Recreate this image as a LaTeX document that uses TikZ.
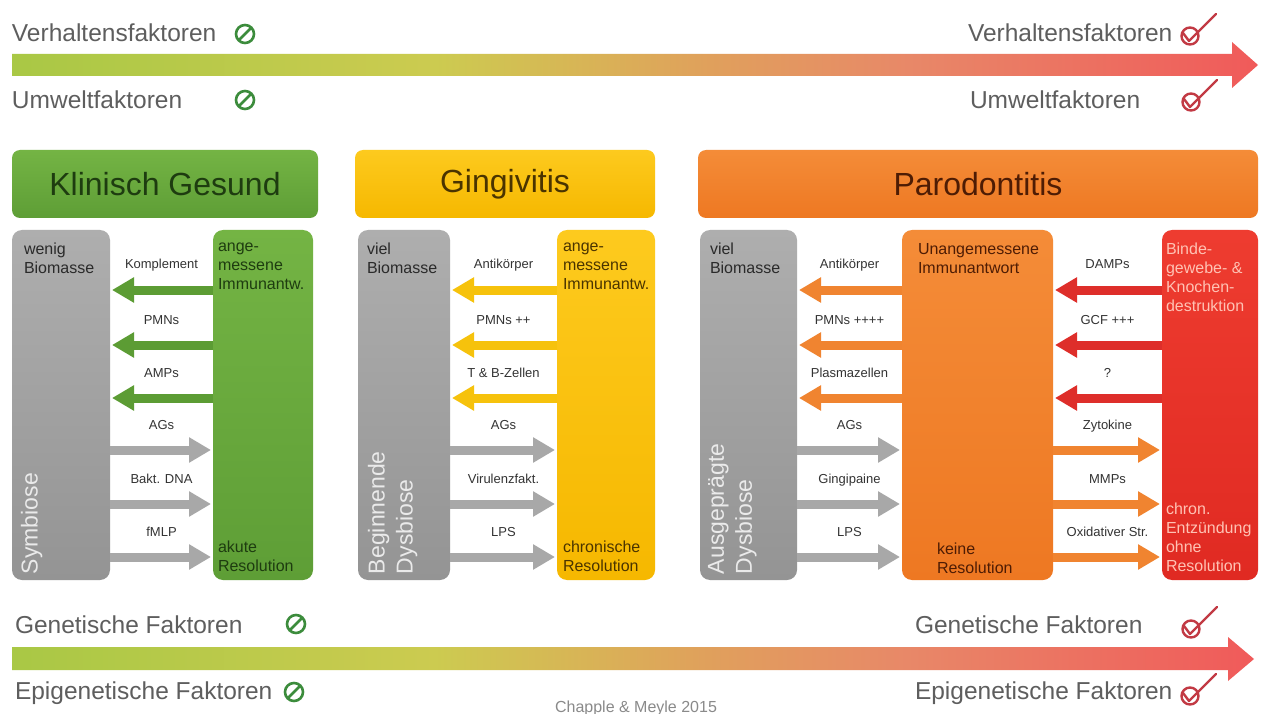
\documentclass[tikz,border=0pt]{standalone}
\usepackage{fontspec}
\setmainfont{Liberation Sans}
\usetikzlibrary{arrows.meta,positioning}

\definecolor{barA}{HTML}{A9C845}
\definecolor{barB}{HTML}{CCCB50}
\definecolor{barC}{HTML}{D8B456}
\definecolor{barD}{HTML}{E0A05C}
\definecolor{barE}{HTML}{E88868}
\definecolor{barF}{HTML}{F05A5A}
\definecolor{factorgray}{HTML}{5E5E5E}
\definecolor{lblgray}{HTML}{333333}
\definecolor{nogreen}{HTML}{3C8C3C}
\definecolor{checkred}{HTML}{C23A44}
\definecolor{grayT}{HTML}{AEAEAE}
\definecolor{grayB}{HTML}{949494}
\definecolor{greenT}{HTML}{74B444}
\definecolor{greenB}{HTML}{5E9E36}
\definecolor{yellowT}{HTML}{FDCA1E}
\definecolor{yellowB}{HTML}{F6B800}
\definecolor{orangeT}{HTML}{F48C38}
\definecolor{orangeB}{HTML}{EE7822}
\definecolor{redT}{HTML}{EE3C30}
\definecolor{redB}{HTML}{E02A22}
\definecolor{arrgreen}{HTML}{5C9C34}
\definecolor{arryellow}{HTML}{F6C20C}
\definecolor{arrorange}{HTML}{F08430}
\definecolor{arrred}{HTML}{DE2E2A}
\definecolor{arrgray}{HTML}{A8A8A8}
\definecolor{txtgreen}{HTML}{1E3C10}
\definecolor{txtyellow}{HTML}{4A3400}
\definecolor{txtorange}{HTML}{4E1C04}
\definecolor{txtred}{HTML}{FFC2B4}
\definecolor{txtgray}{HTML}{2A2A2A}
\definecolor{txtside}{HTML}{EAEAEA}
\definecolor{credgray}{HTML}{8A8A8A}

\pgfdeclarehorizontalshading{factorbar}{100bp}{color(0bp)=(barA); color(25bp)=(barA);
  color(42bp)=(barB); color(48bp)=(barC); color(53bp)=(barD); color(61bp)=(barE);
  color(75bp)=(barF); color(100bp)=(barF)}

\begin{document}
\begin{tikzpicture}[
    x = 1pt, y = -1pt,
    outer sep = 0pt, inner sep = 0pt,
    factor/.style = {font = \fontsize{24.5}{28}\selectfont, text = factorgray, anchor = west},
    headbox/.style = {
      rectangle, rounded corners = 8pt, minimum height = 68pt, anchor = north west,
      font = \fontsize{32}{36}\selectfont,
    },
    col/.style = {rectangle, rounded corners = 10pt, minimum height = 350pt, anchor = north west},
    graycol/.style = {col, top color = grayT, bottom color = grayB, minimum width = 98pt},
    coltext/.style = {font = \fontsize{16}{19}\selectfont, align = left},
    sidetext/.style = {
      font = \fontsize{23}{28}\selectfont, align = left, text = txtside,
      rotate = 90, anchor = north west,
    },
    lbl/.style = {font = \fontsize{13}{15}\selectfont, text = lblgray, midway, anchor = base, yshift = 21pt},
    flow/.style = {line width = 9pt, shorten > = 2pt, -{Triangle[length = 22pt, width = 24pt]}},
    nosign/.pic = {
      \draw[line width = 2.6pt, nogreen] (0,0) circle (9pt) (-6pt,-6pt) -- (6pt,6pt);
    },
    checksign/.pic = {
      \draw[line width = 2.4pt, checkred] (0,0) circle (8.5pt);
      \draw[line width = 2.4pt, checkred, line cap = round, line join = round]
        (-7pt,3pt) -- (-1pt,-5pt) -- (26pt,22pt);
    },
  ]

  \fill[white] (0,0) rectangle (1264,714);
  \useasboundingbox (0,0) rectangle (1264,714);

  % factor bars
  \shade[shading = factorbar] (12,54) -- (1232,54) -- (1232,42) -- (1258,65)
    -- (1232,88) -- (1232,76) -- (12,76) -- cycle;
  \shade[shading = factorbar] (12,647) -- (1228,647) -- (1228,637) -- (1254,659)
    -- (1228,681) -- (1228,670) -- (12,670) -- cycle;

  \node[factor] (verhL) at (12,33) {Verhaltensfaktoren};
  \node[factor] (umwL) at (12,100) {Umweltfaktoren};
  \node[factor] (genL) at (15,625) {Genetische Faktoren};
  \node[factor] (epiL) at (15,693) {Epigenetische Faktoren};
  \node[factor] (verhR) at (968,33) {Verhaltensfaktoren};
  \node[factor] (umwR) at (970,100) {Umweltfaktoren};
  \node[factor] (genR) at (915,625) {Genetische Faktoren};
  \node[factor] (epiR) at (915,693) {Epigenetische Faktoren};

  \pic (noV) at (245,34) {nosign};
  \pic (noU) at (245,100) {nosign};
  \pic (noG) at (296,624) {nosign};
  \pic (noE) at (294,692) {nosign};
  \pic (okV) at (1190,36) {checksign};
  \pic (okU) at (1191,102) {checksign};
  \pic (okG) at (1191,629) {checksign};
  \pic (okE) at (1190,696) {checksign};

  \node[font = \fontsize{16}{18}\selectfont, text = credgray, anchor = base] (cite) at (636,712)
    {Chapple \& Meyle 2015};

  % headers
  \node[headbox, top color = greenT, bottom color = greenB, minimum width = 306pt,
    text = txtgreen] (hdA) at (12,150) {Klinisch Gesund};
  \node[headbox, top color = yellowT, bottom color = yellowB, minimum width = 300pt,
    text = txtyellow] (hdB) at (355,150) {Gingivitis};
  \node[headbox, top color = orangeT, bottom color = orangeB, minimum width = 560pt,
    text = txtorange] (hdC) at (698,150) {Parodontitis};

  % Klinisch Gesund
  \node[graycol] (bioA) at (12,230) {};
  \node[col, top color = greenT, bottom color = greenB, minimum width = 100pt] (immA) at (213,230) {};
  \node[coltext, text = txtgray, anchor = north west] (bioAt) at ([shift = {(12,13)}]bioA.north west)
    {wenig\\Biomasse};
  \node[sidetext] (bioAs) at ([shift = {(9,-6)}]bioA.south west) {Symbiose};
  \node[coltext, text = txtgreen, anchor = north west] (immAt) at ([shift = {(5,13)}]immA.north west)
    {ange-\\messene\\Immunantw.};
  \node[coltext, text = txtgreen, anchor = south west] (immAb) at ([shift = {(5,-8)}]immA.south west)
    {akute\\Resolution};

  \foreach \y/\txt in {290/Komplement, 345/PMNs, 398/AMPs}
    \draw[flow, draw = arrgreen] (immA.west |- 0,\y) -- (bioA.east |- 0,\y) node[lbl] {\txt};
  \foreach \y/\txt in {450/AGs, 504/Bakt. DNA, 557/fMLP}
    \draw[flow, draw = arrgray] (bioA.east |- 0,\y) -- (immA.west |- 0,\y) node[lbl] {\txt};

  % Gingivitis
  \node[graycol, minimum width = 92pt] (bioB) at (358,230) {};
  \node[col, top color = yellowT, bottom color = yellowB, minimum width = 98pt] (immB) at (557,230) {};
  \node[coltext, text = txtgray, anchor = north west] (bioBt) at ([shift = {(9,13)}]bioB.north west)
    {viel\\Biomasse};
  \node[sidetext] (bioBs) at ([shift = {(10,-6)}]bioB.south west) {Beginnende\\Dysbiose};
  \node[coltext, text = txtyellow, anchor = north west] (immBt) at ([shift = {(6,13)}]immB.north west)
    {ange-\\messene\\Immunantw.};
  \node[coltext, text = txtyellow, anchor = south west] (immBb) at ([shift = {(6,-8)}]immB.south west)
    {chronische\\Resolution};

  \foreach \y/\txt in {290/Antikörper, 345/PMNs ++, 398/T \& B-Zellen}
    \draw[flow, draw = arryellow] (immB.west |- 0,\y) -- (bioB.east |- 0,\y) node[lbl] {\txt};
  \foreach \y/\txt in {450/AGs, 504/Virulenzfakt., 557/LPS}
    \draw[flow, draw = arrgray] (bioB.east |- 0,\y) -- (immB.west |- 0,\y) node[lbl] {\txt};

  % Parodontitis
  \node[graycol, minimum width = 97pt] (bioC) at (700,230) {};
  \node[col, top color = orangeT, bottom color = orangeB, minimum width = 151pt] (immC) at (902,230) {};
  \node[col, top color = redT, bottom color = redB, minimum width = 96pt] (desC) at (1162,230) {};
  \node[coltext, text = txtgray, anchor = north west] (bioCt) at ([shift = {(10,13)}]bioC.north west)
    {viel\\Biomasse};
  \node[sidetext] (bioCs) at ([shift = {(8,-6)}]bioC.south west) {Ausgeprägte\\Dysbiose};
  \node[coltext, text = txtorange, anchor = north west] (immCt) at ([shift = {(16,13)}]immC.north west)
    {Unangemessene\\Immunantwort};
  \node[coltext, text = txtorange, anchor = south west] (immCb) at ([shift = {(35,-6)}]immC.south west)
    {keine\\Resolution};
  \node[coltext, text = txtred, anchor = north west] (desCt) at ([shift = {(4,13)}]desC.north west)
    {Binde-\\gewebe- \&\\Knochen-\\destruktion};
  \node[coltext, text = txtred, anchor = south west] (desCb) at ([shift = {(4,-8)}]desC.south west)
    {chron.\\Entzündung\\ohne\\Resolution};

  \foreach \y/\txt in {290/Antikörper, 345/PMNs ++++, 398/Plasmazellen}
    \draw[flow, draw = arrorange] (immC.west |- 0,\y) -- (bioC.east |- 0,\y) node[lbl] {\txt};
  \foreach \y/\txt in {450/AGs, 504/Gingipaine, 557/LPS}
    \draw[flow, draw = arrgray] (bioC.east |- 0,\y) -- (immC.west |- 0,\y) node[lbl] {\txt};
  \foreach \y/\txt in {290/DAMPs, 345/GCF +++, 398/?}
    \draw[flow, draw = arrred] (desC.west |- 0,\y) -- (immC.east |- 0,\y) node[lbl] {\txt};
  \foreach \y/\txt in {450/Zytokine, 504/MMPs, 557/Oxidativer Str.}
    \draw[flow, draw = arrorange] (immC.east |- 0,\y) -- (desC.west |- 0,\y) node[lbl] {\txt};
\end{tikzpicture}
\end{document}
